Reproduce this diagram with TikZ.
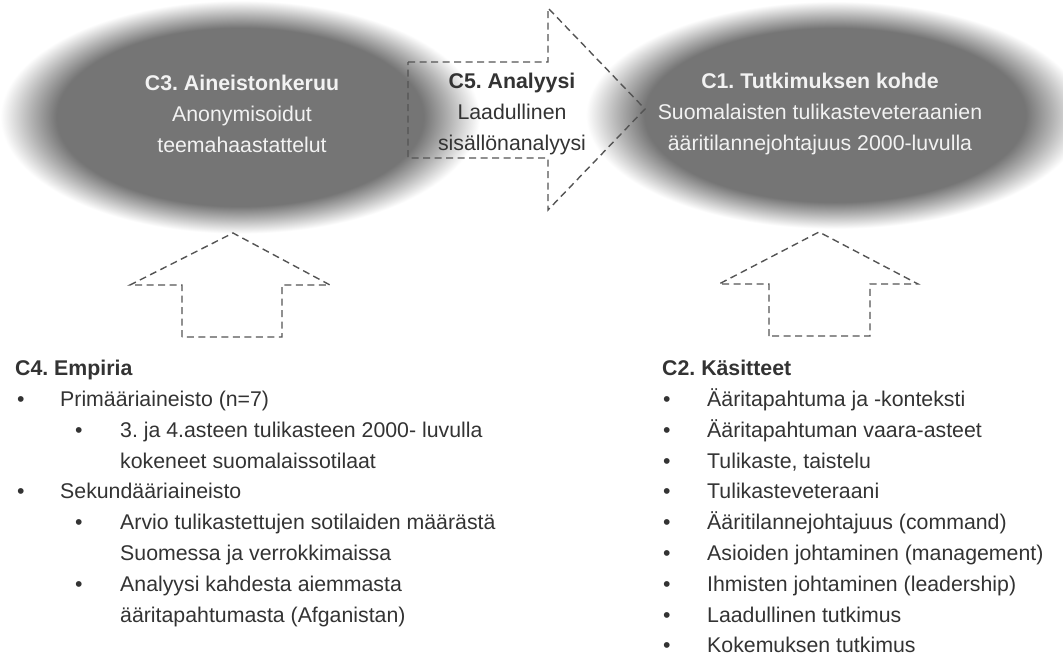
\documentclass[tikz,border=0pt]{standalone}
\usepackage{fontspec}
\setmainfont{Liberation Sans}
\frenchspacing
\definecolor{ellg}{gray}{0.46}
\definecolor{ellm}{gray}{0.70}
\definecolor{dashc}{gray}{0.33}
\definecolor{txt}{gray}{0.2}
\definecolor{wtxt}{gray}{0.95}
\pgfdeclareradialshading{blurell}{\pgfpoint{0bp}{0bp}}{color(0bp)=(ellg); color(18bp)=(ellg); color(20.5bp)=(ellm); color(23.5bp)=(white); color(50bp)=(white)}
\begin{document}
\begin{tikzpicture}[x=1pt,y=-1pt,
  blockarrow/.style={draw=dashc, line width=1.4pt, dash pattern=on 7pt off 4.5pt, line join=miter},
  fnt/.style={font=\fontsize{21.3}{30.8}\selectfont},
  elltext/.style={fnt, text=wtxt, align=center, inner sep=0pt},
  midtext/.style={fnt, text=txt, align=center, inner sep=0pt},
  head/.style={fnt, text=txt, font=\fontsize{21.3}{30.8}\selectfont\bfseries, anchor=base west, inner sep=0pt},
  item/.style={fnt, text=txt, anchor=base west, inner sep=0pt},
  bul/.style={fnt, text=txt, anchor=base west, inner sep=0pt}]
\useasboundingbox (0,0) rectangle (1063,659);
% blurred ellipses
\begin{scope}
\clip (0,0) rectangle (1063,240);
\shade[shading=blurell] (240,117) ellipse [x radius=255pt, y radius=124pt];
\shade[shading=blurell] (835,115) ellipse [x radius=265pt, y radius=121pt];
\end{scope}
% block arrows
\draw[blockarrow] (408,62) -- (548,62) -- (548,8) -- (645,109) -- (548,210) -- (548,158) -- (408,158) -- cycle;
\draw[blockarrow] (182,337) -- (182,285) -- (130,285) -- (233,233) -- (330,285) -- (282,285) -- (282,337) -- cycle;
\draw[blockarrow] (769,336) -- (769,284) -- (719,284) -- (819,232) -- (918,284) -- (870,284) -- (870,336) -- cycle;
% ellipse texts
\node[elltext] (c3) at (242,114) {\textbf{C3. Aineistonkeruu}\\Anonymisoidut\\teemahaastattelut};
\node[elltext] (c1) at (820,114) {\textbf{C1. Tutkimuksen kohde}\\Suomalaisten tulikasteveteraanien\\ääritilannejohtajuus 2000-luvulla};
\node[midtext] (c5) at (512,114) {\textbf{C5. Analyysi}\\Laadullinen\\sisällönanalyysi};
% left list
\node[head] (l0) at (15,375.7) {C4. Empiria};
\node[bul] (lb1) at (17,406.5) {•};
\node[item] (l1) at (60,406.5) {Primääriaineisto (n=7)};
\node[bul] (lb2) at (75,437.3) {•};
\node[item] (l2) at (120,437.3) {3. ja 4.asteen tulikasteen 2000- luvulla};
\node[item] (l3) at (120,468.1) {kokeneet suomalaissotilaat};
\node[bul] (lb4) at (17,498.9) {•};
\node[item] (l4) at (60,498.9) {Sekundääriaineisto};
\node[bul] (lb5) at (75,529.7) {•};
\node[item] (l5) at (120,529.7) {Arvio tulikastettujen sotilaiden määrästä};
\node[item] (l6) at (120,560.5) {Suomessa ja verrokkimaissa};
\node[bul] (lb7) at (75,591.3) {•};
\node[item] (l7) at (120,591.3) {Analyysi kahdesta aiemmasta};
\node[item] (l8) at (120,622.1) {ääritapahtumasta (Afganistan)};
% right list
\node[head] (r0) at (662,375.7) {C2. Käsitteet};
\foreach \t [count=\i] in {Ääritapahtuma ja -konteksti, Ääritapahtuman vaara-asteet, {Tulikaste, taistelu}, Tulikasteveteraani, Ääritilannejohtajuus (command), Asioiden johtaminen (management), Ihmisten johtaminen (leadership), Laadullinen tutkimus, Kokemuksen tutkimus}{
  \node[bul] (rb\i) at (663,375.7+30.8*\i) {•};
  \node[item] (r\i) at (707,375.7+30.8*\i) {\t};
}
\end{tikzpicture}
\end{document}
